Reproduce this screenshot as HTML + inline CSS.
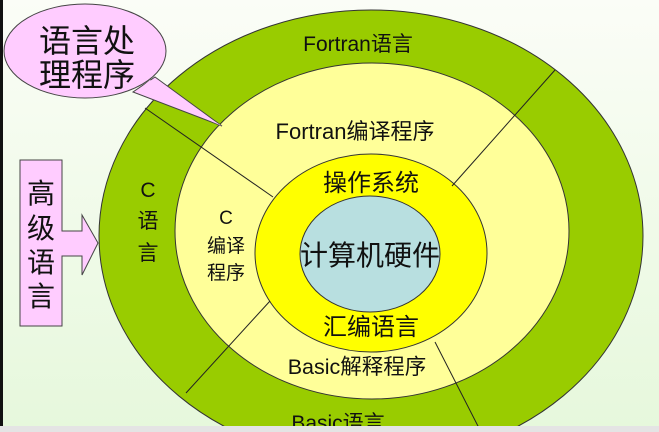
<!DOCTYPE html>
<html><head><meta charset="utf-8"><style>
html,body{margin:0;padding:0;width:659px;height:432px;overflow:hidden}
svg{display:block}
text{font-family:"Liberation Sans","Noto Sans CJK SC",sans-serif;fill:#111}
</style></head><body>
<svg width="659" height="432" viewBox="0 0 659 432" xmlns="http://www.w3.org/2000/svg">
<defs><linearGradient id="bg" x1="0" y1="0" x2="0" y2="1"><stop offset="0" stop-color="#fbfdf7"/><stop offset="1" stop-color="#e6f8dc"/></linearGradient>
<clipPath id="c"><rect width="659" height="426"/></clipPath></defs>
<rect width="659" height="432" fill="url(#bg)"/>
<rect x="0" y="0" width="3" height="432" fill="#111"/>
<g clip-path="url(#c)">
<ellipse cx="371" cy="236" rx="272" ry="226" fill="#99cc00" stroke="#333" stroke-width="1"/>
<ellipse cx="372" cy="231" rx="197" ry="168" fill="#ffff99" stroke="#333" stroke-width="1"/>
<ellipse cx="371" cy="253" rx="116" ry="99" fill="#ffff00" stroke="#333" stroke-width="1"/>
<ellipse cx="370" cy="254" rx="70" ry="58" fill="#b8dfe0" stroke="#333" stroke-width="1"/>
<g stroke="#222" stroke-width="1">
<line x1="145" y1="108" x2="273" y2="197"/>
<line x1="452" y1="186" x2="555" y2="70"/>
<line x1="270" y1="301" x2="186" y2="393"/>
<line x1="435" y1="342" x2="481" y2="432"/>
</g>
<g text-anchor="middle">
<text x="358" y="51" font-size="21">Fortran语言</text>
<text x="355" y="139" font-size="22">Fortran编译程序</text>
<text x="357" y="374" font-size="21.5">Basic解释程序</text>
<text x="338" y="430" font-size="21">Basic语言</text>
</g>
</g>
<path d="M20 160 H62 V231 H82 V215 L98 243 L82 275 V256 H62 V326 H20 Z" fill="#ffccff" stroke="#444" stroke-width="1"/>
<g font-size="28" text-anchor="middle">
<text x="41" y="203">高</text><text x="41" y="238">级</text><text x="41" y="272">语</text><text x="41" y="306">言</text>
</g>
<path d="M155 77 L222 126 L133 92 Z" fill="#ffccff" stroke="#444"/>
<ellipse cx="85" cy="51" rx="81" ry="47" fill="#ffccff" stroke="#444"/>
<path d="M150 80 L222 126 L138 90 Z" fill="#ffccff"/>
<g font-size="32" text-anchor="middle">
<text x="87" y="52">语言处</text><text x="87" y="86">理程序</text>
</g>
<g font-size="21" text-anchor="middle">
<text x="148" y="197">C</text><text x="148" y="228">语</text><text x="148" y="260">言</text>
</g>
<g font-size="19" text-anchor="middle">
<text x="226" y="224">C</text><text x="226" y="252">编译</text><text x="226" y="279">程序</text>
</g>
<text x="371" y="191" font-size="24" text-anchor="middle">操作系统</text>
<text x="370" y="265" font-size="28" text-anchor="middle">计算机硬件</text>
<text x="371" y="335" font-size="24" text-anchor="middle">汇编语言</text>
<rect x="0" y="426" width="659" height="6" fill="#e4e4e4"/>
</svg>
</body></html>
